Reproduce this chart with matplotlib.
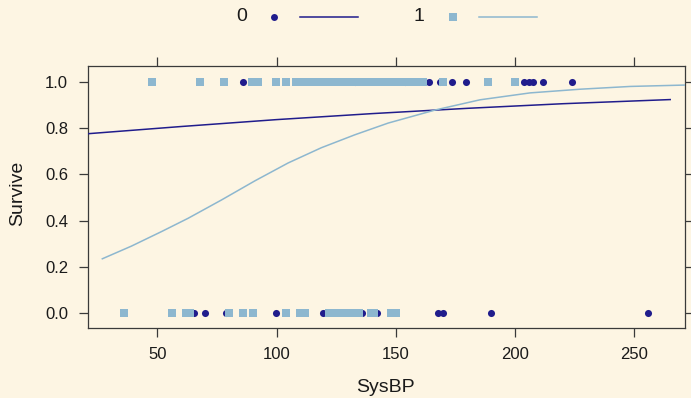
import matplotlib
matplotlib.use("Agg")
import matplotlib.pyplot as plt
from matplotlib.lines import Line2D

plt.rcParams['font.family'] = ['Liberation Sans', 'DejaVu Sans']

# ---- data ----
# group 0 (circles)
g0_survive1_x = [86, 133, 154, 164, 168.5, 173.7, 179.6, 203.8, 205.9, 207.7, 211.5, 223.7]
g0_survive0_x = [65.5, 70, 79, 99.8, 119.4, 136, 142.1, 167.7, 169.8, 189.7, 255.6]
# group 1 (squares)
g1_survive1_x = [47.9, 68, 77.9, 89.9, 92.1, 99.7, 104,
                 108, 110, 112, 114, 116, 118, 120, 122, 124, 126, 128, 130, 132,
                 134, 136, 138, 140, 142, 144, 146, 148, 150, 152, 154, 156, 158, 160, 161.5,
                 169.8, 188.7, 199.9]
g1_survive0_x = [36.2, 56.3, 62.1, 63.6, 80, 85.9, 90, 104, 109.9, 111.9,
                 122.2, 124.5, 127, 129.5, 132, 134.4, 139.6, 140.8, 148.1, 150]

# fitted curves
fit0_x = [15, 21.2, 60, 100, 140, 180, 220, 265]
fit0_y = [0.772, 0.777, 0.808, 0.838, 0.864, 0.887, 0.907, 0.925]
fit1_x = [27, 39.2, 51.8, 63, 76.9, 90.9, 104.9, 118.8, 132.8, 146.8, 166.6, 185.3, 206.3, 227.3, 248.3, 271.2]
fit1_y = [0.234, 0.289, 0.352, 0.410, 0.489, 0.572, 0.650, 0.716, 0.772, 0.823, 0.880, 0.924, 0.954, 0.970, 0.982, 0.988]

xticks = [50, 100, 150, 200, 250]
yticks = [0.0, 0.2, 0.4, 0.6, 0.8, 1.0]
ytick_labels = ["0.0", "0.2", "0.4", "0.6", "0.8", "1.0"]
groups = ["0", "1"]

# ---- style ----
bg = "#FDF5E3"
c0 = "#201C8C"
c1 = "#8DB7CF"
frame = "#3A3A3A"
txt = "#1a1a1a"
W, H = 691, 398

fig = plt.figure(figsize=(6.91, 3.98), dpi=100, facecolor=bg)
ax = fig.add_axes([88 / W, 1 - 328.3 / H, (685 - 88) / W, (328.3 - 65.7) / H])
ax.set_facecolor(bg)

ax.scatter(g0_survive1_x, [1.0] * len(g0_survive1_x), marker='o', s=26, color=c0, linewidths=0, zorder=3)
ax.scatter(g0_survive0_x, [0.0] * len(g0_survive0_x), marker='o', s=26, color=c0, linewidths=0, zorder=3)
ax.scatter(g1_survive1_x, [1.0] * len(g1_survive1_x), marker='s', s=30, color=c1, linewidths=0, zorder=4)
ax.scatter(g1_survive0_x, [0.0] * len(g1_survive0_x), marker='s', s=30, color=c1, linewidths=0, zorder=4)

ax.plot(fit0_x, fit0_y, color=c0, lw=1.1, zorder=5)
ax.plot(fit1_x, fit1_y, color=c1, lw=1.1, zorder=5)

ax.set_xlim(21.0, 271.2)
ax.set_ylim(-0.0677, 1.072)
ax.set_xticks(xticks)
ax.set_yticks(yticks)
ax.set_yticklabels(ytick_labels)
ax.tick_params(axis='both', direction='out', length=6.8, width=0.9, color=frame,
               labelsize=12, labelcolor=txt,
               top=True, right=True, labeltop=False, labelright=False)
ax.tick_params(axis='x', pad=6.5)
ax.tick_params(axis='y', pad=7.5)
for sp in ax.spines.values():
    sp.set_color(frame)
    sp.set_linewidth(0.9)

fig.text(385.5 / W, 1 - 392.5 / H, "SysBP", fontsize=14, ha='center', va='baseline', color=txt)
fig.text(17.2 / W, 1 - 193 / H, "Survive", fontsize=14, ha='center', va='center',
         rotation=90, color=txt)

# legend on top
ly = 1 - 16.5 / H
fig.text(241.7 / W, ly, groups[0], fontsize=14, ha='center', va='center', color=txt)
fig.text(419.3 / W, ly, groups[1], fontsize=14, ha='center', va='center', color=txt)
fig.add_artist(Line2D([274 / W], [ly], marker='o', markersize=5, color=c0,
                      markeredgewidth=0, transform=fig.transFigure))
fig.add_artist(Line2D([452.7 / W], [ly], marker='s', markersize=5.3, color=c1,
                      markeredgewidth=0, transform=fig.transFigure))
fig.add_artist(Line2D([300 / W, 358.3 / W], [ly] * 2, color=c0, lw=1.1,
                      transform=fig.transFigure))
fig.add_artist(Line2D([478.7 / W, 536.7 / W], [ly] * 2, color=c1, lw=1.1,
                      transform=fig.transFigure))

fig.savefig("out.png", dpi=100, facecolor=bg)
